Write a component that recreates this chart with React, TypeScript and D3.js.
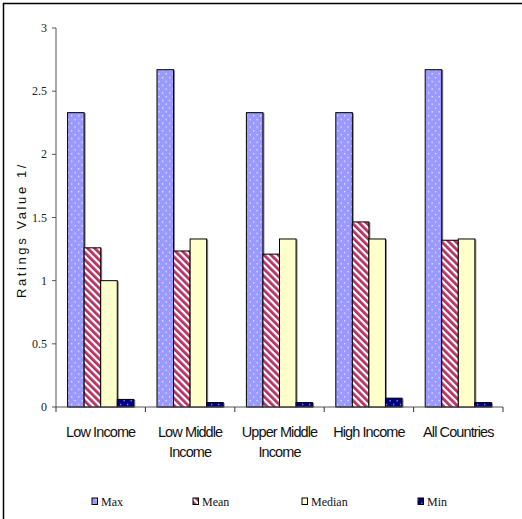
import React from "react";
import * as d3 from "d3";

const categories = [["Low Income"], ["Low Middle", "Income"], ["Upper Middle", "Income"], ["High Income"], ["All Countries"]];
const seriesNames = ["Max", "Mean", "Median", "Min"];
const maxValues = [2.33, 2.67, 2.33, 2.33, 2.67];
const meanValues = [1.26, 1.235, 1.21, 1.465, 1.32];
const medianValues = [1.0, 1.33, 1.33, 1.33, 1.33];
const minValues = [0.06, 0.035, 0.035, 0.07, 0.035];
const yTicks = [0, 0.5, 1, 1.5, 2, 2.5, 3];
const yTickLabels = ["0", "0.5", "1", "1.5", "2", "2.5", "3"];

const series = [maxValues, meanValues, medianValues, minValues];
const fills = ["url(#pMax)", "url(#pMean)", "#FFFFCC", "url(#pMin)"];

export default function App() {
  const left = 56, right = 503, top = 28, bottom = 407;
  const x = d3.scaleBand<number>().domain(d3.range(categories.length)).range([left, right]);
  const y = d3.scaleLinear().domain([0, 3]).range([bottom, top]);
  const barW = x.bandwidth() / 5.4;
  const groupOff = (x.bandwidth() - barW * 4) / 2;
  const legendX = [92, 193, 302, 418];
  const serif = "'Liberation Serif', 'Times New Roman', serif";
  const sans = "'Liberation Sans', Arial, sans-serif";
  return (
    <svg width={522} height={519} style={{ position: "absolute", left: 0, top: 0 }}>
      <defs>
        <pattern id="pMax" width={7} height={7.6} patternUnits="userSpaceOnUse">
          <rect width={7} height={7.6} fill="#9999FF" />
          <rect x={1} y={1} width={1.3} height={1.3} fill="#E8E8FF" />
          <rect x={4.5} y={4.8} width={1.3} height={1.3} fill="#E8E8FF" />
        </pattern>
        <pattern id="pMin" width={7} height={7.6} patternUnits="userSpaceOnUse">
          <rect width={7} height={7.6} fill="#000080" />
          <rect x={1} y={1} width={1.3} height={1.3} fill="#9999DD" />
          <rect x={4.5} y={4.8} width={1.3} height={1.3} fill="#9999DD" />
        </pattern>
        <pattern id="pMean" width={5} height={5} patternUnits="userSpaceOnUse" patternTransform="rotate(-45)">
          <rect width={5} height={5} fill="#FFFFFF" />
          <rect width={2.8} height={5} fill="#B8305F" />
        </pattern>
      </defs>
      <rect x={3.5} y={3.5} width={530} height={530} fill="white" stroke="black" strokeWidth={1.5} />
      {/* y axis */}
      <line x1={left} x2={left} y1={top} y2={bottom} stroke="#555" strokeWidth={1} />
      {yTicks.map((t, i) => (
        <g key={i}>
          <line x1={left - 4} x2={left} y1={y(t)} y2={y(t)} stroke="#555" />
          <text x={left - 9} y={y(t) + 4} textAnchor="end" fontFamily={serif} fontSize={12} fill="#222">{yTickLabels[i]}</text>
        </g>
      ))}
      <text transform={`translate(26,${230}) rotate(-90)`} textAnchor="middle" fontFamily={sans} fontSize={13} letterSpacing={2.6} fill="#111">Ratings Value 1/</text>
      {/* bars */}
      {categories.map((c, i) =>
        series.map((s, j) => {
          const bx = (x(i) as number) + groupOff + j * barW;
          const by = y(s[i]);
          return (
            <g key={`${i}-${j}`}>
              <rect x={bx + 1.5} y={by + 0.5} width={barW} height={bottom - by} fill="#888" />
              <rect x={bx} y={by} width={barW} height={bottom - by} fill={fills[j]} stroke="black" strokeWidth={1} />
            </g>
          );
        })
      )}
      {/* x axis */}
      <line x1={left} x2={right} y1={bottom} y2={bottom} stroke="#555" />
      {d3.range(categories.length + 1).map((i) => {
        const tx = left + i * x.step();
        return <line key={i} x1={tx} x2={tx} y1={bottom} y2={bottom + 5} stroke="#333" />;
      })}
      {categories.map((c, i) => (
        <text key={i} x={(x(i) as number) + x.bandwidth() / 2} y={437} textAnchor="middle" fontFamily={sans} fontSize={14.5} letterSpacing={-0.9} fill="#111">
          {c.map((line, k) => (
            <tspan key={k} x={(x(i) as number) + x.bandwidth() / 2} dy={k === 0 ? 0 : 20}>{line}</tspan>
          ))}
        </text>
      ))}
      {/* legend */}
      {seriesNames.map((n, j) => (
        <g key={n}>
          <rect x={legendX[j]} y={498} width={5.5} height={6.5} fill={j === 1 ? "url(#pMean)" : fills[j]} stroke="black" strokeWidth={1} />
          <text x={legendX[j] + 9} y={506} fontFamily={serif} fontSize={12} fill="#111">{n}</text>
        </g>
      ))}
    </svg>
  );
}
